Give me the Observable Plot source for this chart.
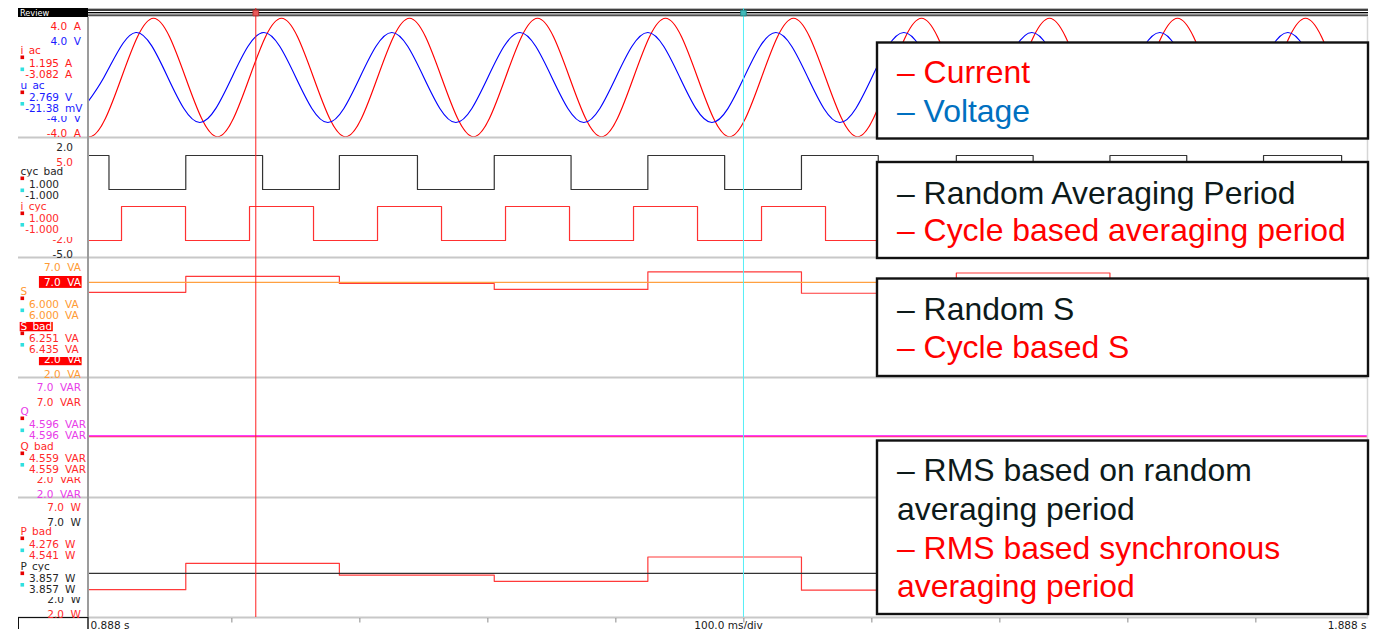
<!DOCTYPE html>
<html>
<head>
<meta charset="utf-8">
<script src="https://cdn.jsdelivr.net/npm/d3@7"></script>
<script src="https://cdn.jsdelivr.net/npm/@observablehq/plot@0.6"></script>
<style>
  html, body { margin: 0; padding: 0; background: #fff; }
  #scope { position: relative; width: 1379px; height: 629px; overflow: hidden; background: #fff; }
  #scope > svg { position: absolute; left: 0; margin: 0; pointer-events: none; }
</style>
</head>
<body>
<div id="scope"></div>
<script>
// ---------------------------------------------------------------------------
// Record window and time base
const xDomain = [0.888, 1.888];                       // s
const divisionTicks = [1.0, 1.1, 1.2, 1.3, 1.4, 1.5, 1.6, 1.7, 1.8];
const timeLabels = ["0.888 s", "100.0 ms/div", "1.888 s"];

// Measurement cursors (s)
const cursorTimes = [1.0187, 1.3997];

// Channels (two per panel)
const channelNames = ["i_ac", "u_ac", "cyc_bad", "i_cyc", "S", "S_bad", "Q", "Q_bad", "P_bad", "P_cyc"];
const channelUnits = ["A", "V", "", "", "VA", "VA", "VAR", "VAR", "W", "W"];
const channelMin   = [-4, -4, -5, -2, 2, 2, 2, 2, 2, 2];
const channelMax   = [ 4,  4,  2,  5, 7, 7, 7, 7, 7, 7];
const selectedChannel = "S_bad";

// Cursor readouts (first cursor, second cursor)
const readoutA      = ["1.195", "2.769", "1.000", "1.000", "6.000", "6.251", "4.596", "4.559", "4.276", "3.857"];
const readoutAUnits = ["A", "V", "", "", "VA", "VA", "VAR", "VAR", "W", "W"];
const readoutB      = ["-3.082", "-21.38", "-1.000", "-1.000", "6.000", "6.435", "4.596", "4.559", "4.541", "3.857"];
const readoutBUnits = ["A", "mV", "", "", "VA", "VA", "VAR", "VAR", "W", "W"];

// i_ac: zero crossings and peaks, every quarter period (s, A)
const iacT = [0.8638, 0.8888, 0.9138, 0.9388, 0.9638, 0.9888, 1.0138, 1.0388, 1.0638, 1.0888,
              1.1138, 1.1388, 1.1638, 1.1888, 1.2138, 1.2388, 1.2638, 1.2888, 1.3138, 1.3388, 1.3638,
              1.3888, 1.4138, 1.4388, 1.4638, 1.4888, 1.5138, 1.5388, 1.5638, 1.5888, 1.6138,
              1.6388, 1.6638, 1.6888, 1.7138, 1.7388, 1.7638, 1.7888, 1.8138, 1.8388, 1.8638, 1.8888, 1.9138];
const iacV = [0, -3.95, 0, 3.95, 0, -3.95, 0, 3.95, 0, -3.95,
              0, 3.95, 0, -3.95, 0, 3.95, 0, -3.95, 0, 3.95, 0,
              -3.95, 0, 3.95, 0, -3.95, 0, 3.95, 0, -3.95, 0,
              3.95, 0, -3.95, 0, 3.95, 0, -3.95, 0, 3.95, 0, -3.95, 0];

// u_ac: zero crossings and peaks, every quarter period (s, V)
const uacT = [0.875, 0.900, 0.925, 0.950, 0.975, 1.000, 1.025, 1.050, 1.075, 1.100, 1.125,
              1.150, 1.175, 1.200, 1.225, 1.250, 1.275, 1.300, 1.325, 1.350, 1.375, 1.400, 1.425,
              1.450, 1.475, 1.500, 1.525, 1.550, 1.575, 1.600, 1.625, 1.650, 1.675, 1.700, 1.725,
              1.750, 1.775, 1.800, 1.825, 1.850, 1.875, 1.900];
const uacV = [-3.0, 0, 3.0, 0, -3.0, 0, 3.0, 0, -3.0, 0, 3.0,
              0, -3.0, 0, 3.0, 0, -3.0, 0, 3.0, 0, -3.0, -0.02138, 3.0,
              0, -3.0, 0, 3.0, 0, -3.0, 0, 3.0, 0, -3.0, 0, 3.0,
              0, -3.0, 0, 3.0, 0, -3.0, 0];

// cyc_bad: free-running averaging window flag
const cycBadT = [0.888, 0.904, 0.964, 1.024, 1.084, 1.145, 1.205, 1.265, 1.325, 1.385,
                 1.445, 1.505, 1.566, 1.626, 1.686, 1.746, 1.806, 1.867, 1.888];
const cycBadV = [1, -1, 1, -1, 1, -1, 1, -1, 1, -1, 1, -1, 1, -1, 1, -1, 1, -1, -1];

// i_cyc: cycle flag from the current zero crossings
const iCycT = [0.888, 0.9138, 0.9638, 1.0138, 1.0638, 1.1138, 1.1638, 1.2138, 1.2638, 1.3138, 1.3638,
               1.4138, 1.4638, 1.5138, 1.5638, 1.6138, 1.6638, 1.7138, 1.7638, 1.8138, 1.8638, 1.888];
const iCycV = [-1, 1, -1, 1, -1, 1, -1, 1, -1, 1, -1, 1, -1, 1, -1, 1, -1, 1, -1, 1, -1, -1];

// Apparent power (VA)
const sT = [0.888, 1.888];
const sV = [6.000, 6.000];
const sBadT = [0.888, 0.964, 1.084, 1.205, 1.325, 1.445, 1.566, 1.686, 1.806, 1.888];
const sBadV = [5.58, 6.251, 5.95, 5.70, 6.435, 5.54, 6.39, 5.62, 6.05, 6.05];

// Reactive power (VAR)
const qT = [0.888, 1.888];
const qV = [4.596, 4.596];
const qBadV = [4.559, 4.559];

// Active power (W)
const pBadT = [0.888, 0.964, 1.084, 1.205, 1.325, 1.445, 1.566, 1.686, 1.806, 1.888];
const pBadV = [3.17, 4.276, 3.78, 3.52, 4.541, 3.15, 4.40, 3.55, 3.90, 3.90];
const pCycT = [0.888, 1.888];
const pCycV = [3.857, 3.857];

// Legend texts
const legendWave   = ["– Current", "– Voltage"];
const legendPeriod = ["– Random Averaging Period", "– Cycle based averaging period"];
const legendS      = ["– Random S", "– Cycle based S"];
const legendRms    = ["– RMS based on random", "averaging period", "– RMS based synchronous", "averaging period"];

// ---------------------------------------------------------------------------
// Layout and styles
const W = 1379, H = 629;
const FRAME_LEFT = 88, FRAME_RIGHT = 1368;
const panels = [
  {top: 17, h: 120}, {top: 138, h: 119}, {top: 258, h: 119}, {top: 378, h: 119}, {top: 498, h: 119}
];
const panelChannels = [[0, 1], [2, 3], [4, 5], [6, 7], [8, 9]];
const lineColors = ["#ff0000", "#0000ff", "#333333", "#ff3030", "#ffa040", "#ff3a3a", "#ff3cff", "#ff3030", "#ff3a3a", "#333333"];
const textColors = ["#ff1a1a", "#1a1aff", "#262626", "#ff2a2a", "#ff9a33", "#ff2a2a", "#e83ce8", "#ff2a2a", "#ff2a2a", "#262626"];
const LABEL_FONT = "'DejaVu Sans', Verdana, sans-serif";
const LEGEND_FONT = "'Liberation Sans', Arial, sans-serif";

const scope = document.getElementById("scope");

function place(svg, top) {
  svg.style.position = "absolute";
  svg.style.left = "0px";
  svg.style.top = top + "px";
  scope.append(svg);
}

function channelPlot(panel, domain, marks) {
  const svg = Plot.plot({
    width: W, height: panel.h,
    marginLeft: FRAME_LEFT, marginRight: W - FRAME_RIGHT, marginTop: 0, marginBottom: 0,
    x: {domain: xDomain, axis: null},
    y: {domain, axis: null},
    style: {background: "transparent"},
    marks
  });
  place(svg, panel.top);
}

const sine = (T, V, c) => Plot.line(T, {x: T, y: V, curve: "natural", stroke: lineColors[c], strokeWidth: 1.15, clip: true});
const step = (T, V, c, w = 1.2) => Plot.line(T, {x: T, y: V, curve: "step-after", stroke: lineColors[c], strokeWidth: w, clip: true});

// Panel 1: current and voltage
channelPlot(panels[0], [channelMin[0], channelMax[0]], [sine(iacT, iacV, 0), sine(uacT, uacV, 1)]);
// Panel 2: averaging window flags, each on its own range
channelPlot(panels[1], [channelMin[2], channelMax[2]], [step(cycBadT, cycBadV, 2)]);
channelPlot(panels[1], [channelMin[3], channelMax[3]], [step(iCycT, iCycV, 3)]);
// Panel 3: apparent power
channelPlot(panels[2], [channelMin[4], channelMax[4]], [step(sBadT, sBadV, 5), step(sT, sV, 4)]);
// Panel 4: reactive power
channelPlot(panels[3], [channelMin[6], channelMax[6]], [step(qT, qBadV, 7, 1.4), step(qT, qV, 6, 1.4)]);
// Panel 5: active power
channelPlot(panels[4], [channelMin[8], channelMax[8]], [step(pBadT, pBadV, 8), step(pCycT, pCycV, 9)]);

// ---------------------------------------------------------------------------
// Frame, channel labels and readouts
const chrome = d3.select(scope).append("svg").attr("width", W).attr("height", H).style("top", "0px");

// Review bar
chrome.append("rect").attr("x", 18).attr("y", 8).attr("width", 70).attr("height", 9).attr("fill", "#000");
chrome.append("text").attr("x", 20).attr("y", 15.6).attr("fill", "#fff")
  .attr("font-family", LABEL_FONT).attr("font-size", 8.2).text("Review");
[[8.5, "#b8b8b8", 1], [10, "#000", 1.4], [11.6, "#ffffff", 1], [12.6, "#000", 1.2], [14.1, "#8c8c8c", 1], [15.2, "#000", 1.1], [16.4, "#c8c8c8", 1]]
  .forEach(([y, c, w]) => chrome.append("line").attr("x1", FRAME_LEFT).attr("x2", FRAME_RIGHT).attr("y1", y).attr("y2", y)
    .attr("stroke", c).attr("stroke-width", w));

// Panel separators
panels.forEach(p => {
  const y = p.top + p.h + 0.5;
  chrome.append("line").attr("x1", 18).attr("x2", FRAME_RIGHT).attr("y1", y).attr("y2", y)
    .attr("stroke", "#c8c8c8").attr("stroke-width", 1.8);
});
// Left and right frame edges
chrome.append("line").attr("x1", FRAME_LEFT).attr("x2", FRAME_LEFT).attr("y1", 17).attr("y2", H)
  .attr("stroke", "#9c9c9c").attr("stroke-width", 2);
chrome.append("line").attr("x1", FRAME_RIGHT - 0.5).attr("x2", FRAME_RIGHT - 0.5).attr("y1", 17).attr("y2", 618)
  .attr("stroke", "#d6d6d6").attr("stroke-width", 1.5);
// Time-base box
chrome.append("rect").attr("x", 18.5).attr("y", 617.5).attr("width", 69.5).attr("height", 14)
  .attr("fill", "none").attr("stroke", "#111").attr("stroke-width", 1);

function labelRow(y0, y1, draw) {
  const s = chrome.append("svg").attr("x", 18).attr("y", y0).attr("width", 72).attr("height", y1 - y0)
    .attr("overflow", "hidden");
  const g = s.append("g").attr("transform", `translate(-18,${-y0})`);
  draw(g);
}
function labelText(g, x, y, str, color, anchor) {
  return g.append("text").attr("x", x).attr("y", y).attr("fill", color).attr("text-anchor", anchor)
    .attr("font-family", LABEL_FONT).attr("font-size", 10.5)
    .attr("xml:space", "preserve").style("white-space", "pre").text(str);
}
function highlight(g, t, y0, y1, padL) {
  const len = t.node().getComputedTextLength();
  const anchor = t.attr("text-anchor");
  const x = +t.attr("x");
  const left = anchor === "end" ? x - len : x;
  g.insert("rect", "text").attr("x", left - padL).attr("y", y0).attr("width", len + padL + 0.6)
    .attr("height", y1 - y0).attr("fill", "#ff0000");
  t.attr("fill", "#ffffff");
}

const rowOffsets = {max1: 12.5, max2: 27.5, name1: 37, a1: 49.5, b1: 61, name2: 72, a2: 83.5, b2: 95, min2: 105, min1: 119.5};
const squareOffsets = [38.5, 50.5, 73.5, 85];

panels.forEach((p, pi) => {
  const [c1, c2] = panelChannels[pi];
  const rows = [
    {kind: "range", c: c1, v: channelMax[c1], b: rowOffsets.max1},
    {kind: "range", c: c2, v: channelMax[c2], b: rowOffsets.max2},
    {kind: "name", c: c1, b: rowOffsets.name1},
    {kind: "read", c: c1, s: readoutA[c1], u: readoutAUnits[c1], b: rowOffsets.a1},
    {kind: "read", c: c1, s: readoutB[c1], u: readoutBUnits[c1], b: rowOffsets.b1},
    {kind: "name", c: c2, b: rowOffsets.name2},
    {kind: "read", c: c2, s: readoutA[c2], u: readoutAUnits[c2], b: rowOffsets.a2},
    {kind: "read", c: c2, s: readoutB[c2], u: readoutBUnits[c2], b: rowOffsets.b2},
    {kind: "range", c: c2, v: channelMin[c2], b: rowOffsets.min2, cut: true},
    {kind: "range", c: c1, v: channelMin[c1], b: rowOffsets.min1}
  ];
  rows.forEach(r => {
    const b = p.top + r.b;
    const sel = channelNames[r.c] === selectedChannel;
    const color = textColors[r.c];
    if (r.kind === "range") {
      const y0 = r.cut ? b - 6 : b - 9.5, y1 = b + 2.4;
      labelRow(y0, y1, g => {
        const unit = channelUnits[r.c];
        const t = unit ? labelText(g, 81, b, `${r.v.toFixed(1)}  ${unit}`, color, "end")
                       : labelText(g, 73, b, r.v.toFixed(1), color, "end");
        if (sel) highlight(g, t, y0, y1, 5);
      });
    } else if (r.kind === "name") {
      const y0 = b - 8.2, y1 = b + 1.5;
      labelRow(y0, y1, g => {
        const t = labelText(g, 20.5, b, channelNames[r.c], color, "start");
        if (sel) highlight(g, t, y0, y1, 0.8);
      });
    } else {
      labelRow(b - 9.5, b + 2.4, g => {
        labelText(g, 59, b, r.s, color, "end");
        if (r.u) labelText(g, 65, b, r.u, color, "start");
      });
    }
  });
  squareOffsets.forEach((o, i) => {
    chrome.append("rect").attr("x", 20.5).attr("y", p.top + o).attr("width", 3.6).attr("height", 3.6)
      .attr("fill", i % 2 === 0 ? "#e60000" : "#2fe0e0");
  });
});

// ---------------------------------------------------------------------------
// Time base strip
place(Plot.plot({
  width: W, height: 11,
  marginLeft: FRAME_LEFT, marginRight: W - FRAME_RIGHT, marginTop: 0, marginBottom: 0,
  x: {domain: xDomain, axis: null},
  style: {background: "transparent", fontFamily: LABEL_FONT, fontSize: "10.5px", color: "#1a1a1a"},
  marks: [
    Plot.tickX(divisionTicks, {x: d => d, stroke: "#8a8a8a", insetBottom: 6.5}),
    Plot.text([xDomain[0]], {x: d => d, text: () => timeLabels[0], textAnchor: "start", frameAnchor: "bottom", lineAnchor: "bottom", dx: 2, dy: -1}),
    Plot.text([(xDomain[0] + xDomain[1]) / 2], {x: d => d, text: () => timeLabels[1], frameAnchor: "bottom", lineAnchor: "bottom", dy: -1}),
    Plot.text([xDomain[1]], {x: d => d, text: () => timeLabels[2], textAnchor: "end", frameAnchor: "bottom", lineAnchor: "bottom", dx: -2, dy: -1})
  ]
}), 618);

// Cursors
place(Plot.plot({
  width: W, height: 609,
  marginLeft: FRAME_LEFT, marginRight: W - FRAME_RIGHT, marginTop: 0, marginBottom: 0,
  x: {domain: xDomain, axis: null},
  style: {background: "transparent"},
  marks: [
    Plot.ruleX([cursorTimes[0]], {x: d => d, stroke: "#ff2020", strokeWidth: 1}),
    Plot.ruleX([cursorTimes[1]], {x: d => d, stroke: "#55eef6", strokeWidth: 1}),
    Plot.dot([cursorTimes[0]], {x: d => d, frameAnchor: "top", dy: 4.5, symbol: "square", r: 3.2, fill: "#e85a5a", stroke: "#b02828", strokeWidth: 0.8}),
    Plot.dot([cursorTimes[1]], {x: d => d, frameAnchor: "top", dy: 4.5, symbol: "square", r: 3.2, fill: "#3fb8b8", stroke: "#1d7f7f", strokeWidth: 0.8})
  ]
}), 8);

// ---------------------------------------------------------------------------
// Legend boxes
const legendLayer = d3.select(scope).append("svg").attr("width", W).attr("height", H).style("top", "0px");
const legendBoxes = [
  {y0: 42.5, y1: 138.5, lines: legendWave, colors: ["#ff0000", "#0070c0"], baselines: [83, 122]},
  {y0: 162, y1: 258, lines: legendPeriod, colors: ["#0d1a1a", "#ff0000"], baselines: [203.5, 241]},
  {y0: 278.5, y1: 376, lines: legendS, colors: ["#0d1a1a", "#ff0000"], baselines: [319.5, 358]},
  {y0: 440.5, y1: 614, lines: legendRms, colors: ["#0d1a1a", "#0d1a1a", "#ff0000", "#ff0000"], baselines: [481, 520, 559, 597]}
];
legendBoxes.forEach(box => {
  legendLayer.append("rect").attr("x", 877).attr("y", box.y0).attr("width", FRAME_RIGHT - 877).attr("height", box.y1 - box.y0)
    .attr("fill", "#fff").attr("stroke", "#111").attr("stroke-width", 2.4);
  box.lines.forEach((s, i) => {
    legendLayer.append("text").attr("x", 0).attr("y", 0).attr("fill", box.colors[i])
      .attr("transform", `translate(897,${box.baselines[i]}) scale(1.03,1)`)
      .attr("font-family", LEGEND_FONT).attr("font-size", 31).text(s);
  });
});
</script>
</body>
</html>
